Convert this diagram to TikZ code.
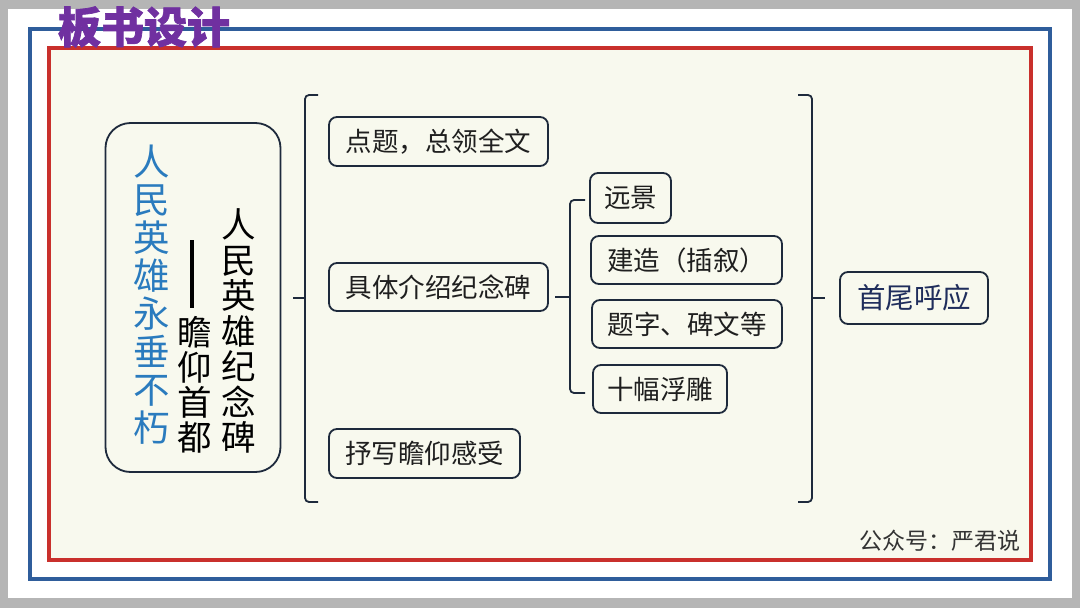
\documentclass[tikz,border=0pt]{standalone}
\usepackage{fontspec}
\setmainfont{Noto Sans CJK SC}
\newfontfamily\titlefont[BoldFeatures={FakeBold=1.6}]{Noto Sans CJK SC}
\definecolor{outergray}{HTML}{B5B5B5}
\definecolor{framblue}{HTML}{2F5D9B}
\definecolor{framred}{HTML}{C9302C}
\definecolor{cream}{HTML}{F8F9EE}
\definecolor{titlepurple}{HTML}{7030A0}
\definecolor{textblue}{HTML}{2A7BBE}
\definecolor{boxline}{HTML}{1E2A3C}
\definecolor{navytext}{HTML}{1F2D5C}
\definecolor{marktext}{HTML}{333333}
\tikzset{
  nbox/.style={draw=boxline, line width=1.8pt, rounded corners=8pt, fill=cream,
    inner sep=0pt, text=black!88, font=\fontsize{26.5}{26.5}\selectfont},
  brk/.style={draw=boxline, line width=1.8pt, rounded corners=4pt},
  tick/.style={draw=boxline, line width=1.8pt},
}
\begin{document}
\begin{tikzpicture}[x=1pt,y=-1pt]
\useasboundingbox (0,0) rectangle (1080,608);
% page
\fill[outergray] (0,0) rectangle (1080,608);
\fill[white] (8,9) rectangle (1072,598);
\draw[framblue, line width=4pt] (30,29) rectangle (1050,579);
\draw[framred, line width=4pt, fill=cream] (49,48) rectangle (1031,560);
% title
\node[font=\fontsize{43}{43}\selectfont\titlefont\bfseries, text=titlepurple, inner sep=0pt] (title) at (144,27) {板书设计};
% left big box
\node[draw=boxline, line width=1.8pt, rounded corners=25pt, fill=cream,
      minimum width=175pt, minimum height=349pt, inner sep=0pt] (main) at (193,297.5) {};
\node[font=\fontsize{36.5}{38}\selectfont, text=textblue, align=center, inner sep=0pt] (theme) at (152,294.5)
  {人\\民\\英\\雄\\永\\垂\\不\\朽};
\node[font=\fontsize{34.5}{35.5}\selectfont, text=black, align=center, inner sep=0pt] (title1) at (239,331)
  {人\\民\\英\\雄\\纪\\念\\碑};
\node[font=\fontsize{34.5}{35}\selectfont, text=black, align=center, inner sep=0pt] (title2) at (195,385)
  {瞻\\仰\\首\\都};
\coordinate (dashtop) at (192,240);
\coordinate (dashbot) at (192,308);
\draw[black, line width=3.5pt] (dashtop) -- (dashbot);
% level 1 boxes
\node[nbox, minimum width=219pt, minimum height=49pt] (b1) at (438.5,141.5) {点题，总领全文};
\node[nbox, minimum width=219pt, minimum height=48pt] (b2) at (438.5,287) {具体介绍纪念碑};
\node[nbox, minimum width=191pt, minimum height=49pt] (b3) at (424.5,453.5) {抒写瞻仰感受};
% level 2 boxes
\node[nbox, minimum width=81pt, minimum height=50pt] (c1) at (630.5,198) {远景};
\node[nbox, minimum width=191pt, minimum height=48pt] (c2) at (686.5,260) {建造（插叙）};
\node[nbox, minimum width=190pt, minimum height=48pt] (c3) at (687,324) {题字、碑文等};
\node[nbox, minimum width=134pt, minimum height=48pt] (c4) at (660,389) {十幅浮雕};
% result box
\node[nbox, minimum width=148pt, minimum height=52pt, text=navytext, font=\fontsize{28.5}{28.5}\selectfont] (d1) at (914,298) {首尾呼应};
% left bracket
\coordinate (lbt) at (318,95);
\coordinate (lbb) at (318,502);
\coordinate (lbm) at (305,298);
\coordinate (lbtip) at (293,298);
\draw[brk] (lbt) -- (305,95) -- (305,502) -- (lbb);
\draw[tick] (lbtip) -- (lbm);
% second bracket
\coordinate (sbt) at (585,200);
\coordinate (sbb) at (585,393);
\coordinate (sbm) at (570,297);
\coordinate (sbtip) at (555,297);
\draw[brk] (sbt) -- (570,200) -- (570,393) -- (sbb);
\draw[tick] (sbtip) -- (sbm);
% right bracket
\coordinate (rbt) at (798,95);
\coordinate (rbb) at (798,502);
\coordinate (rbm) at (812,298);
\coordinate (rbtip) at (825,298);
\draw[brk] (rbt) -- (812,95) -- (812,502) -- (rbb);
\draw[tick] (rbm) -- (rbtip);
% watermark
\node[font=\fontsize{23}{23}\selectfont, text=marktext, inner sep=0pt] (mark) at (940,541) {公众号：严君说};
\end{tikzpicture}
\end{document}
